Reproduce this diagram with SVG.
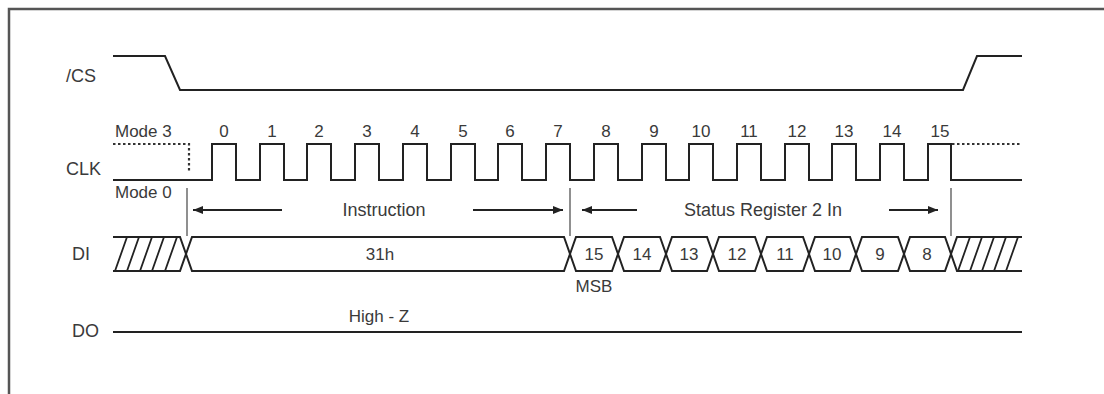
<svg xmlns="http://www.w3.org/2000/svg" width="1104" height="394" viewBox="0 0 1104 394">
<style>
.t{font-family:"Liberation Sans",Arial,sans-serif;font-size:17px;fill:#3a3a3a}
.l{font-family:"Liberation Sans",Arial,sans-serif;font-size:18px;fill:#3a3a3a}
.m{text-anchor:middle}
.w{fill:none;stroke:#222;stroke-width:2;stroke-linejoin:miter}
.h{fill:none;stroke:#222;stroke-width:1.8}
.v{stroke:#555;stroke-width:1.3}
.d{fill:none;stroke:#333;stroke-width:2.2;stroke-dasharray:2.5 2.5}
.a{stroke:#222;stroke-width:2}
.f{fill:none;stroke:#555;stroke-width:2.5}
</style>
<defs>
<marker id="ah" viewBox="0 0 10 8" refX="10" refY="4" markerWidth="10" markerHeight="8" markerUnits="userSpaceOnUse" orient="auto">
<path d="M0,0 L10,4 L0,8 Z" fill="#222"/>
</marker>
</defs>
<rect width="1104" height="394" fill="#fff"/>
<path class="f" d="M9,394 V9 H1104"/>

<g id="cs">
<text class="l" x="66" y="82">/CS</text>
<path class="w" d="M113,56 H165 L180,90 H963 L977,56 H1022"/>
</g>

<g id="clk">
<text class="l" x="66" y="175">CLK</text>
<text class="t" x="115" y="137">Mode 3</text>
<text class="t" x="115" y="198">Mode 0</text>
<path class="d" d="M113,144 H189 V172"/>
<path class="d" d="M952,144 H1022"/>
<path class="w" d="M113,180 H212 V144 H236 V180 H260 V144 H284 V180 H307 V144 H331 V180 H355 V144 H379 V180 H403 V144 H427 V180 H451 V144 H475 V180 H498 V144 H522 V180 H546 V144 H570 V180 H594 V144 H618 V180 H642 V144 H666 V180 H689 V144 H713 V180 H737 V144 H761 V180 H785 V144 H809 V180 H832 V144 H856 V180 H880 V144 H904 V180 H928 V144 H951 V180 H1022"/>
<g class="t m">
<text x="224" y="137">0</text><text x="272" y="137">1</text><text x="319" y="137">2</text><text x="367" y="137">3</text>
<text x="415" y="137">4</text><text x="463" y="137">5</text><text x="510" y="137">6</text><text x="558" y="137">7</text>
<text x="606" y="137">8</text><text x="654" y="137">9</text><text x="701" y="137">10</text><text x="749" y="137">11</text>
<text x="797" y="137">12</text><text x="844" y="137">13</text><text x="892" y="137">14</text><text x="940" y="137">15</text>
</g>
</g>

<g id="phase-labels">
<text class="l m" x="384" y="216">Instruction</text>
<text class="l m" x="763" y="216">Status Register 2 In</text>
<text class="t m" x="594" y="292">MSB</text>
</g>

<g id="di">
<text class="l" x="72" y="260">DI</text>
<path class="w" d="M113,237 H180 L186,254 L180,271 H113"/>
<path class="h" d="M115,271 L127,237 M127,271 L139,237 M140,271 L152,237 M152,271 L164,237 M165,271 L177,237"/>
<polygon class="w" points="186,254 192,237 564,237 570,254 564,271 192,271"/>
<text class="t m" x="380" y="260">31h</text>
<polygon class="w" points="570,254 576,237 612,237 618,254 612,271 576,271"/>
<polygon class="w" points="618,254 624,237 660,237 666,254 660,271 624,271"/>
<polygon class="w" points="666,254 672,237 707,237 713,254 707,271 672,271"/>
<polygon class="w" points="713,254 719,237 755,237 761,254 755,271 719,271"/>
<polygon class="w" points="761,254 767,237 803,237 809,254 803,271 767,271"/>
<polygon class="w" points="809,254 815,237 850,237 856,254 850,271 815,271"/>
<polygon class="w" points="856,254 862,237 898,237 904,254 898,271 862,271"/>
<polygon class="w" points="904,254 910,237 945,237 951,254 945,271 910,271"/>
<g class="t m">
<text x="594" y="260">15</text><text x="642" y="260">14</text><text x="689" y="260">13</text><text x="737" y="260">12</text>
<text x="785" y="260">11</text><text x="832" y="260">10</text><text x="880" y="260">9</text><text x="927" y="260">8</text>
</g>
<path class="w" d="M1022,237 H957 L951,254 L957,271 H1022"/>
<path class="h" d="M958,271 L970,237 M970,271 L982,237 M982,271 L994,237 M994,271 L1006,237 M1006,271 L1018,237"/>
</g>

<g id="do">
<text class="l" x="72" y="337">DO</text>
<text class="t m" x="379" y="322">High - Z</text>
<path class="w" d="M113,332 H1022"/>
</g>

<g id="connectors">
<path class="v" d="M187,188 V236 M570,188 V236 M951,188 V236"/>
<path class="a" d="M282,210 H193" marker-end="url(#ah)"/>
<path class="a" d="M473,210 H563" marker-end="url(#ah)"/>
<path class="a" d="M637,210 H582" marker-end="url(#ah)"/>
<path class="a" d="M889,210 H938" marker-end="url(#ah)"/>
</g>
</svg>
